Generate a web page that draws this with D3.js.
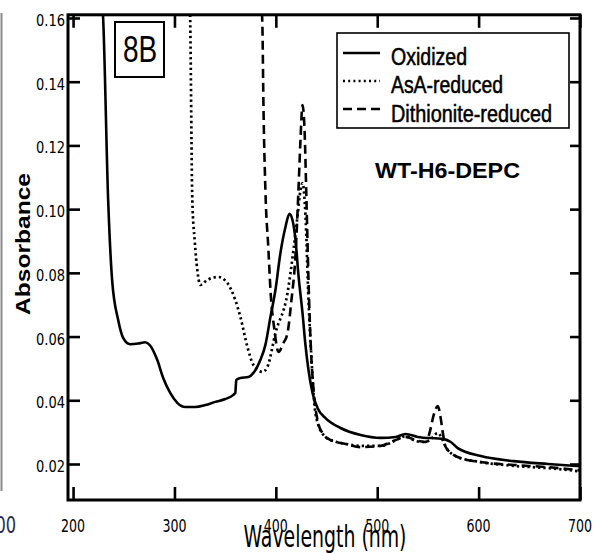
<!DOCTYPE html>
<html><head><meta charset="utf-8">
<script src="https://cdn.jsdelivr.net/npm/d3@7"></script>
<style>body{margin:0;background:#fff}svg{display:block}</style>
</head><body>
<svg id="c" width="600" height="553"></svg>
<script>
// ---- data ----
const xTicks = [200, 300, 400, 500, 600, 700];
const yTicks = [0.02, 0.04, 0.06, 0.08, 0.10, 0.12, 0.14, 0.16];
const yTickLabels = ["0.02", "0.04", "0.06", "0.08", "0.10", "0.12", "0.14", "0.16"];
const seriesNames = ["Oxidized", "AsA-reduced", "Dithionite-reduced"];

const oxWl  = [228.5,229.6,234.6,238.5,244.5,249.4,256.3,264.2,271.1,276,283,288.9,295.8,302.8,310.7,320.6,330.4,340.3,350.2,358.1,360,361,365,372.9,377.9,384.8,389.7,394.7,399.6,404.5,409.5,413.4,416.4,419.4,422.3,426.3,429.2,432.2,436.2,441.1,449,463.8,483.6,503.4,518.2,528,539.9,565.6,572.5,579.4,602.2,634.8,668.4,700];
const oxAbs = [0.166,0.1603,0.1029,0.0778,0.0652,0.0596,0.0576,0.0578,0.0582,0.0572,0.0527,0.047,0.0423,0.0392,0.0379,0.0379,0.0385,0.0395,0.0404,0.0417,0.0423,0.0464,0.047,0.0473,0.0486,0.0527,0.0574,0.0662,0.0746,0.0862,0.0944,0.0985,0.0966,0.0903,0.0793,0.0674,0.0574,0.0495,0.0423,0.0376,0.0344,0.0313,0.0291,0.0282,0.0285,0.0294,0.0285,0.0278,0.0269,0.025,0.0225,0.0209,0.02,0.0193];

const asaWl  = [315.2,315.6,317.6,320,322.5,325.5,332.4,343.3,352.2,360,365,372,377.9,386.8,391.7,399.6,411.5,417.4,421.3,424.3,426.3,429.2,432.2,435.2,438.1,442,449,457,468.8,483.6,503.4,523,528,538,545.8,552,559.7,564.6,567.6,579.4,602,634.8,668.4,700];
const asaAbs = [0.166,0.158,0.103,0.09,0.081,0.0762,0.0778,0.0787,0.0768,0.0715,0.0662,0.0567,0.0511,0.0489,0.0505,0.0611,0.0737,0.0872,0.0976,0.106,0.1082,0.0982,0.0715,0.0527,0.0385,0.0322,0.0285,0.0272,0.0263,0.0257,0.0257,0.0282,0.0288,0.0272,0.0269,0.0275,0.0297,0.0275,0.0253,0.0222,0.0206,0.0194,0.0187,0.0177];

const dtnWl  = [385.5,386.8,387.7,389.7,392.7,394.7,398.6,402.6,407.5,411.5,415.4,419.4,422.3,424.3,426.3,428.3,430.2,432.2,434.2,437.2,441.1,446,454,468.8,483.6,503.4,518,528,538,548,551.8,555.7,559.7,562.6,564.6,567.6,579.4,602,634.8,668.4,700];
const dtnAbs = [0.166,0.1566,0.1343,0.106,0.0872,0.0746,0.0621,0.0552,0.058,0.0611,0.0715,0.0856,0.106,0.1217,0.1327,0.125,0.1029,0.0778,0.0589,0.0432,0.0338,0.0297,0.0275,0.0263,0.0253,0.0257,0.0275,0.0285,0.0275,0.0269,0.03,0.0354,0.0382,0.0344,0.03,0.0253,0.0222,0.0206,0.0197,0.019,0.018];

// ---- layout ----
const svg = d3.select("#c");
const L = 68, R = 580, T = 14.8, B = 500;
const x = d3.scaleLinear().domain([195, 700]).range([L, R]);
const y = d3.scaleLinear().domain([0.0087, 0.161]).range([B, T]);

// stray artefacts from neighbouring figure
svg.append("line").attr("x1",1.5).attr("x2",1.5).attr("y1",13).attr("y2",491)
  .attr("stroke","#8a8a8a").attr("stroke-width",2);
svg.append("text").attr("transform","translate(16,533) scale(1,1.3)")
  .attr("text-anchor","end").attr("font-family","DejaVu Sans Condensed")
  .attr("font-size",18).attr("fill","#1f2d4d").text("00");

svg.append("clipPath").attr("id","pc").append("rect")
  .attr("x",L).attr("y",T).attr("width",R-L).attr("height",B-T);

const line = d3.line().x(d=>x(d[0])).y(d=>y(d[1])).curve(d3.curveMonotoneX);
const g = svg.append("g").attr("clip-path","url(#pc)");
g.append("path").datum(d3.zip(oxWl, oxAbs)).attr("d", line)
  .attr("fill","none").attr("stroke","#000").attr("stroke-width",2.6).attr("stroke-linejoin","round");
g.append("path").datum(d3.zip(asaWl, asaAbs)).attr("d", line)
  .attr("fill","none").attr("stroke","#000").attr("stroke-width",2.7).attr("stroke-dasharray","2.3,3");
g.append("path").datum(d3.zip(dtnWl, dtnAbs)).attr("d", line)
  .attr("fill","none").attr("stroke","#000").attr("stroke-width",2.6).attr("stroke-dasharray","9,5");

// axes (ticks only; frame drawn separately)
function styleAxis(sel){ sel.select(".domain").remove(); sel.selectAll(".tick line").attr("stroke","#000").attr("stroke-width",2.6); sel.selectAll("text").remove(); }
svg.append("g").attr("transform",`translate(${L},0)`).call(d3.axisLeft(y).tickValues(yTicks).tickSize(-12)).call(styleAxis);
svg.append("g").attr("transform",`translate(${R},0)`).call(d3.axisRight(y).tickValues(yTicks).tickSize(-10)).call(styleAxis);
svg.append("g").attr("transform",`translate(0,${B})`).call(d3.axisBottom(x).tickValues(xTicks).tickSize(-13)).call(styleAxis);
svg.append("g").attr("transform",`translate(0,${T})`).call(d3.axisTop(x).tickValues(xTicks).tickSize(-13)).call(styleAxis);

svg.append("rect").attr("x",L).attr("y",T).attr("width",R-L).attr("height",B-T)
  .attr("fill","none").attr("stroke","#000").attr("stroke-width",3);

// tick labels
svg.selectAll(".yl").data(yTicks).join("text").attr("class","yl")
  .attr("transform",d=>`translate(${L-3},${y(d)+8}) scale(1,1.1)`)
  .attr("text-anchor","end").attr("font-family","DejaVu Sans Condensed").attr("font-size",14.5)
  .text((d,i)=>yTickLabels[i]);
svg.selectAll(".xl").data(xTicks).join("text").attr("class","xl")
  .attr("transform",d=>`translate(${x(d)},${532}) scale(1,1.3)`)
  .attr("text-anchor","middle").attr("font-family","DejaVu Sans Condensed").attr("font-size",14)
  .text(d=>d);

// axis titles
svg.append("text").attr("transform","translate(325,547) scale(1,1.45)")
  .attr("text-anchor","middle").attr("font-family","DejaVu Sans Condensed").attr("font-size",21)
  .text("Wavelength (nm)");
svg.append("text").attr("transform","translate(30,244) rotate(-90)")
  .attr("text-anchor","middle").attr("font-family","Liberation Sans, Arial").attr("font-weight","bold")
  .attr("font-size",20).attr("textLength",142).attr("lengthAdjust","spacingAndGlyphs")
  .text("Absorbance");

// panel label
svg.append("rect").attr("x",115).attr("y",22).attr("width",49).attr("height",55)
  .attr("fill","none").attr("stroke","#000").attr("stroke-width",2);
svg.append("text").attr("transform","translate(140,62) scale(1,1.35)")
  .attr("text-anchor","middle").attr("font-family","Liberation Sans, Arial").attr("font-size",28)
  .text("8B");

svg.append("text").attr("x",375).attr("y",178)
  .attr("font-family","Liberation Sans, Arial").attr("font-weight","bold").attr("font-size",22)
  .attr("textLength",145).attr("lengthAdjust","spacingAndGlyphs").text("WT-H6-DEPC");

// legend
svg.append("rect").attr("x",337).attr("y",33).attr("width",232).attr("height",95)
  .attr("fill","#fff").attr("stroke","#000").attr("stroke-width",1.6);
const legDash = [null, "2,3.2", "9,5"];
const legY = [53, 81, 109];
const legBase = [65, 93, 122];
const legLen = [76, 112, 161];
seriesNames.forEach((n,i)=>{
  svg.append("line").attr("x1",343).attr("x2",380).attr("y1",legY[i]).attr("y2",legY[i])
    .attr("stroke","#000").attr("stroke-width",2.4).attr("stroke-dasharray",legDash[i]);
  svg.append("text").attr("transform",`translate(391,${legBase[i]}) scale(1,1.15)`)
    .attr("font-family","Liberation Sans, Arial").attr("font-size",20)
    .attr("stroke","#000").attr("stroke-width",0.45)
    .attr("textLength",legLen[i]).attr("lengthAdjust","spacingAndGlyphs").text(n);
});
</script>
</body></html>
